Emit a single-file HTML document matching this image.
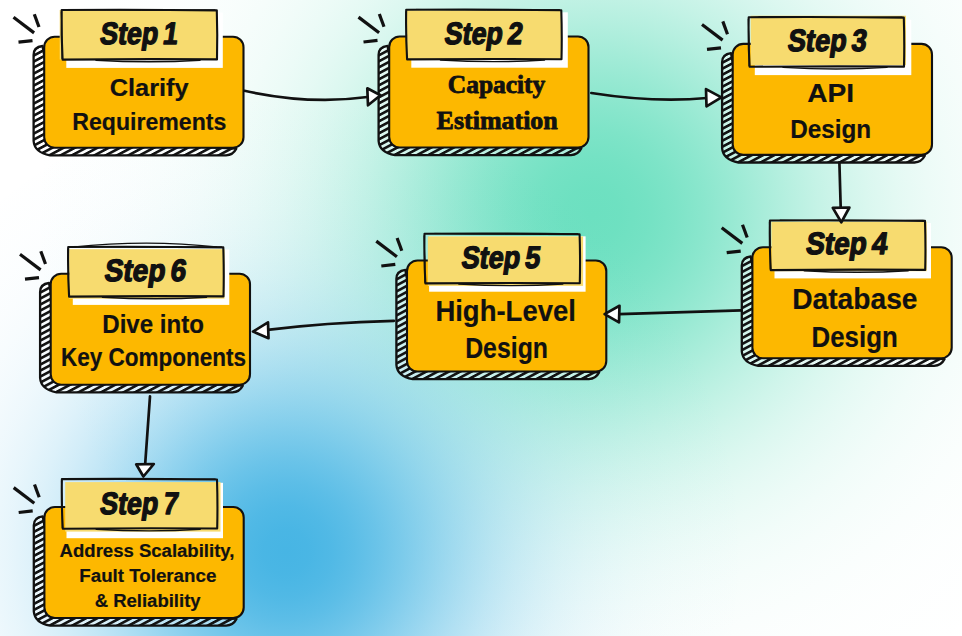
<!DOCTYPE html>
<html lang="en"><head><meta charset="utf-8"><title>System Design Interview Steps</title>
<style>
html,body{margin:0;padding:0;background:#fff;}
body{width:962px;height:636px;overflow:hidden;}
svg{display:block;}
.step{font-family:"Liberation Sans",sans-serif;font-weight:bold;fill:#111111;stroke:#111111;stroke-width:1.35px;stroke-linejoin:round;word-spacing:-3px;}
.sans{font-family:"Liberation Sans",sans-serif;font-weight:bold;fill:#111111;stroke:#111111;stroke-width:0.2px;stroke-linejoin:round;}
.serif{font-family:"Liberation Serif",serif;font-weight:bold;fill:#111111;stroke:#111111;stroke-width:0.8px;stroke-linejoin:round;}
</style></head><body>
<svg width="962" height="636" viewBox="0 0 962 636">
<defs>
<radialGradient id="gG" gradientUnits="userSpaceOnUse" cx="592" cy="215" r="560">
<stop offset="0.000" stop-color="#6ce0c0" stop-opacity="1.000"/>
<stop offset="0.050" stop-color="#6ce0c0" stop-opacity="0.986"/>
<stop offset="0.100" stop-color="#6ce0c0" stop-opacity="0.945"/>
<stop offset="0.150" stop-color="#6ce0c0" stop-opacity="0.880"/>
<stop offset="0.200" stop-color="#6ce0c0" stop-opacity="0.796"/>
<stop offset="0.250" stop-color="#6ce0c0" stop-opacity="0.701"/>
<stop offset="0.300" stop-color="#6ce0c0" stop-opacity="0.599"/>
<stop offset="0.350" stop-color="#6ce0c0" stop-opacity="0.498"/>
<stop offset="0.400" stop-color="#6ce0c0" stop-opacity="0.402"/>
<stop offset="0.450" stop-color="#6ce0c0" stop-opacity="0.316"/>
<stop offset="0.500" stop-color="#6ce0c0" stop-opacity="0.241"/>
<stop offset="0.550" stop-color="#6ce0c0" stop-opacity="0.179"/>
<stop offset="0.600" stop-color="#6ce0c0" stop-opacity="0.129"/>
<stop offset="0.650" stop-color="#6ce0c0" stop-opacity="0.090"/>
<stop offset="0.700" stop-color="#6ce0c0" stop-opacity="0.062"/>
<stop offset="0.750" stop-color="#6ce0c0" stop-opacity="0.041"/>
<stop offset="0.800" stop-color="#6ce0c0" stop-opacity="0.026"/>
<stop offset="0.850" stop-color="#6ce0c0" stop-opacity="0.016"/>
<stop offset="0.900" stop-color="#6ce0c0" stop-opacity="0.010"/>
<stop offset="0.950" stop-color="#6ce0c0" stop-opacity="0.006"/>
<stop offset="1.000" stop-color="#6ce0c0" stop-opacity="0.000"/>
</radialGradient>
<radialGradient id="gB" gradientUnits="userSpaceOnUse" cx="286" cy="552" r="460">
<stop offset="0.000" stop-color="#47b5e4" stop-opacity="1.000"/>
<stop offset="0.050" stop-color="#47b5e4" stop-opacity="0.986"/>
<stop offset="0.100" stop-color="#47b5e4" stop-opacity="0.945"/>
<stop offset="0.150" stop-color="#47b5e4" stop-opacity="0.881"/>
<stop offset="0.200" stop-color="#47b5e4" stop-opacity="0.798"/>
<stop offset="0.250" stop-color="#47b5e4" stop-opacity="0.703"/>
<stop offset="0.300" stop-color="#47b5e4" stop-opacity="0.602"/>
<stop offset="0.350" stop-color="#47b5e4" stop-opacity="0.501"/>
<stop offset="0.400" stop-color="#47b5e4" stop-opacity="0.406"/>
<stop offset="0.450" stop-color="#47b5e4" stop-opacity="0.319"/>
<stop offset="0.500" stop-color="#47b5e4" stop-opacity="0.244"/>
<stop offset="0.550" stop-color="#47b5e4" stop-opacity="0.182"/>
<stop offset="0.600" stop-color="#47b5e4" stop-opacity="0.131"/>
<stop offset="0.650" stop-color="#47b5e4" stop-opacity="0.092"/>
<stop offset="0.700" stop-color="#47b5e4" stop-opacity="0.063"/>
<stop offset="0.750" stop-color="#47b5e4" stop-opacity="0.042"/>
<stop offset="0.800" stop-color="#47b5e4" stop-opacity="0.027"/>
<stop offset="0.850" stop-color="#47b5e4" stop-opacity="0.017"/>
<stop offset="0.900" stop-color="#47b5e4" stop-opacity="0.010"/>
<stop offset="0.950" stop-color="#47b5e4" stop-opacity="0.006"/>
<stop offset="1.000" stop-color="#47b5e4" stop-opacity="0.000"/>
</radialGradient>
<pattern id="hatch" patternUnits="userSpaceOnUse" width="5.3" height="5.3" patternTransform="rotate(-28)">
<rect x="0" y="0" width="5.3" height="2.6" fill="#111111"/>
</pattern>
<g id="box">
<path d="M42.5 46 Q33.6 47 33.6 55 L33.6 141 Q34.5 152.5 50 155.3 L226 155.3 Q233 155 236.3 148.6 L60 140 Z" fill="#ffffff" fill-opacity="0.4"/>
<path d="M42.5 46 Q33.6 47 33.6 55 L33.6 141 Q34.5 152.5 50 155.3 L226 155.3 Q233 155 236.3 148.6 L60 140 Z" fill="url(#hatch)" stroke="#111111" stroke-width="2.3" stroke-linejoin="round"/>
<rect x="44.2" y="36.7" width="199.3" height="111" rx="10.5" ry="10.5" fill="#FDB800" stroke="#111111" stroke-width="2.1"/>
<rect x="66.3" y="12.5" width="156.5" height="55.4" fill="#ffffff"/>
<g stroke="#111111" stroke-width="3.2" stroke-linecap="butt" fill="none">
<path d="M13.5 17.3 L34.1 32.9"/>
<path d="M34.3 14.2 L39 27"/>
<path d="M18.5 42.2 L32.5 40.6"/>
</g>
</g>
<g id="lbl" fill="none" stroke="#111111" stroke-linejoin="round" stroke-linecap="round">
<path d="M61.7 10 Q140 9.4 216.8 10.4 Q217.6 35 217 59.4 Q140 58.8 62.6 59.6 Q61.2 35 61.7 10 Z" stroke-width="2.1"/>
<path d="M61.2 12 Q62.6 36 62 58.6 M72 9.6 Q140 11 215 9.8" stroke-width="1"/>
<path d="M96 60.2 Q150 63.4 200 60.2" stroke-width="1.4"/>
</g>
</defs>
<rect width="962" height="636" fill="#ffffff"/>
<rect width="962" height="636" fill="url(#gG)"/>
<rect width="962" height="636" fill="url(#gB)"/>

<g><use href="#box" x="0" y="0"/>
<rect x="59.7" y="10.0" width="157.5" height="49.5" fill="#F7DB6F"/>
<use href="#lbl" x="0.0" y="0.0"/>
<text class="step" transform="translate(99.0 43.8) skewX(-8)" x="0" y="0" font-size="31" textLength="77.9" lengthAdjust="spacingAndGlyphs">Step 1</text>
<text class="sans" x="109.7" y="96.0" font-size="24.5" textLength="79.0" lengthAdjust="spacingAndGlyphs">Clarify</text>
<text class="sans" x="72.3" y="129.9" font-size="24.5" textLength="154.1" lengthAdjust="spacingAndGlyphs">Requirements</text>
</g>
<g><use href="#box" x="345.0" y="-0.2"/>
<rect x="406.7" y="10.3" width="155.3" height="49.5" fill="#F7DB6F"/>
<use href="#lbl" x="344.5" y="-0.2"/>
<text class="step" transform="translate(443.6 43.8) skewX(-8)" x="0" y="0" font-size="31" textLength="77.9" lengthAdjust="spacingAndGlyphs">Step 2</text>
<text class="serif" x="447.8" y="93.2" font-size="24.5" textLength="97.5" lengthAdjust="spacingAndGlyphs">Capacity</text>
<text class="serif" x="436.6" y="128.5" font-size="24.5" textLength="121.2" lengthAdjust="spacingAndGlyphs">Estimation</text>
</g>
<g><use href="#box" x="688.5" y="7.2"/>
<rect x="750.7" y="15.7" width="155.3" height="49.5" fill="#F7DB6F"/>
<use href="#lbl" x="687.0" y="7.2"/>
<text class="step" transform="translate(786.8 50.6) skewX(-8)" x="0" y="0" font-size="31" textLength="78.7" lengthAdjust="spacingAndGlyphs">Step 3</text>
<text class="sans" x="807.2" y="102.3" font-size="26" textLength="46.9" lengthAdjust="spacingAndGlyphs">API</text>
<text class="sans" x="790.2" y="137.8" font-size="26.5" textLength="80.9" lengthAdjust="spacingAndGlyphs">Design</text>
</g>
<g><use href="#box" x="708.2" y="210.5"/>
<rect x="771.4" y="221.7" width="155.3" height="49.5" fill="#F7DB6F"/>
<use href="#lbl" x="708.2" y="210.5"/>
<text class="step" transform="translate(805.0 254.1) skewX(-8)" x="0" y="0" font-size="31" textLength="81.4" lengthAdjust="spacingAndGlyphs">Step 4</text>
<text class="sans" x="792.2" y="308.8" font-size="29.5" textLength="125.3" lengthAdjust="spacingAndGlyphs">Database</text>
<text class="sans" x="811.6" y="346.9" font-size="29.5" textLength="86.1" lengthAdjust="spacingAndGlyphs">Design</text>
</g>
<g><use href="#box" x="362.8" y="223.8"/>
<rect x="427.8" y="236.4" width="155.3" height="49.5" fill="#F7DB6F"/>
<use href="#lbl" x="362.8" y="223.8"/>
<text class="step" transform="translate(460.4 267.5) skewX(-8)" x="0" y="0" font-size="31" textLength="78.8" lengthAdjust="spacingAndGlyphs">Step 5</text>
<text class="sans" x="435.4" y="320.5" font-size="29.5" textLength="140.5" lengthAdjust="spacingAndGlyphs">High-Level</text>
<text class="sans" x="465.2" y="357.9" font-size="29.5" textLength="82.8" lengthAdjust="spacingAndGlyphs">Design</text>
</g>
<g><use href="#box" x="6.5" y="237"/>
<rect x="69.2" y="249.2" width="155.3" height="49.5" fill="#F7DB6F"/>
<use href="#lbl" x="6.5" y="237.0"/>
<path d="M72.5 247.2 Q146.5 239.2 216.5 247.0" fill="none" stroke="#111111" stroke-width="1.4" stroke-linecap="round"/>
<text class="step" transform="translate(103.6 281.0) skewX(-8)" x="0" y="0" font-size="31" textLength="81.4" lengthAdjust="spacingAndGlyphs">Step 6</text>
<text class="sans" x="102.3" y="332.7" font-size="26" textLength="101.6" lengthAdjust="spacingAndGlyphs">Dive into</text>
<text class="sans" x="60.9" y="365.7" font-size="26" textLength="185.2" lengthAdjust="spacingAndGlyphs">Key Components</text>
</g>
<g><use href="#box" x="0.2" y="470.3"/>
<rect x="65.2" y="482.1" width="155.3" height="49.5" fill="#F7DB6F"/>
<use href="#lbl" x="0.2" y="469.1"/>
<text class="step" transform="translate(99.0 514.1) skewX(-8)" x="0" y="0" font-size="31" textLength="77.9" lengthAdjust="spacingAndGlyphs">Step 7</text>
<text class="sans" x="59.6" y="557.3" font-size="18" textLength="174.8" lengthAdjust="spacingAndGlyphs">Address Scalability,</text>
<text class="sans" x="79.3" y="582.0" font-size="18" textLength="137.0" lengthAdjust="spacingAndGlyphs">Fault Tolerance</text>
<text class="sans" x="94.7" y="606.9" font-size="18" textLength="105.9" lengthAdjust="spacingAndGlyphs">&amp; Reliability</text>
</g>

<g fill="none" stroke="#111111" stroke-width="2.7" stroke-linecap="round" stroke-linejoin="round">
<path d="M244.5 90.8 Q310 105 367.5 97"/>
<path d="M367.3 88.3 L380.5 95.3 L368 105.3 Z" fill="#ffffff"/>
<path d="M591.3 93 Q655 103 707 98"/>
<path d="M706 89.1 L721.4 97.4 L706.5 106.3 Z" fill="#ffffff"/>
<path d="M839.4 162.6 L840.7 207.9"/>
<path d="M832.8 207.9 L849.4 207.5 L841.3 222.3 Z" fill="#ffffff"/>
<path d="M741.4 310.3 L619.1 314.1"/>
<path d="M619.5 305.8 L604.6 314.1 L619 322.4 Z" fill="#ffffff"/>
<path d="M393.9 320.8 Q325 322.5 267.5 329.9"/>
<path d="M268 322.4 L253 331.6 L268.5 338.2 Z" fill="#ffffff"/>
<path d="M150 396.4 L145.2 463.9"/>
<path d="M136.2 464.3 L153.8 464 L143.4 476.5 Z" fill="#ffffff"/>
</g>

</svg></body></html>
